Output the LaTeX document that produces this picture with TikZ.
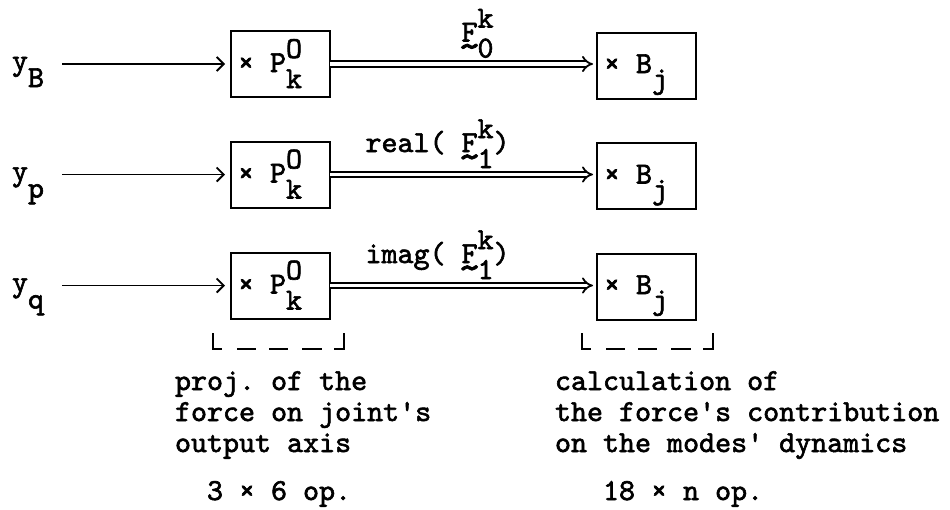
\documentclass[tikz,border=0pt]{standalone}
\usepackage{fontspec}
\usetikzlibrary{arrows.meta}
\newfontfamily\twf{lmmono10-regular.otf}[FakeBold=2,WordSpace={1,0,0},PunctuationSpace=WordSpace]
\newcommand\twfont{\fontsize{30.5}{31}\selectfont\twf\frenchspacing}
\newcommand\ud[2]{\rlap{\raisebox{14pt}{#1}}\raisebox{-16pt}{#2}}
\newcommand\tlF{\rlap{\makebox[16pt][c]{\raisebox{\dimexpr-\height-2.5pt\relax}{\scalebox{1.5}[1.3]{\textasciitilde}}}}F}
\begin{document}
\begin{tikzpicture}[x=1pt,y=-1pt,
  every node/.style={inner sep=0pt, outer sep=0pt, font=\twfont},
  box/.style={draw, line width=2pt, minimum width=99pt, minimum height=66pt},
  txt/.style={anchor=base west},
  single/.style={line width=1.8pt, -{Straight Barb[length=7pt,width=14pt]}, shorten >=6pt},
  dbl/.style={double, line width=1.8pt, double distance=3.6pt, -{Implies}, shorten >=4pt},
  brk/.style={line width=2pt}]
\useasboundingbox (0,0) rectangle (950,509);

% boxes
\node[box] (p1) at (280.5,64)    {};
\node[box] (p2) at (280.5,174.5) {};
\node[box] (p3) at (280.5,285.5) {};
\node[box] (b1) at (646.5,65.5)  {};
\node[box] (b2) at (646.5,176)   {};
\node[box] (b3) at (646.5,286.5) {};

% box texts
\node[txt] (tp1) at ([shift={(7,8)}]p1.west) {×\ P\ud{O}{k}};
\node[txt] (tp2) at ([shift={(7,8)}]p2.west) {×\ P\ud{O}{k}};
\node[txt] (tp3) at ([shift={(7,8)}]p3.west) {×\ P\ud{O}{k}};
\node[txt] (tb1) at ([shift={(7,7.5)}]b1.west) {×\ B\raisebox{-15pt}{j}};
\node[txt] (tb2) at ([shift={(7,7.5)}]b2.west) {×\ B\raisebox{-15pt}{j}};
\node[txt] (tb3) at ([shift={(7,7.5)}]b3.west) {×\ B\raisebox{-15pt}{j}};

% inputs
\node[txt] (yB) at (12,70)  {y\raisebox{-17pt}{B}};
\node[txt] (yp) at (12,180.5) {y\raisebox{-17pt}{p}};
\node[txt] (yq) at (12,291.5) {y\raisebox{-17pt}{q}};
\coordinate (s1) at (62,64);
\coordinate (s2) at (62,174.5);
\coordinate (s3) at (62,285.5);
\draw[single] (s1) -- (p1.west);
\draw[single] (s2) -- (p2.west);
\draw[single] (s3) -- (p3.west);

% double arrows
\draw[dbl] (p1.east) -- (p1.east -| b1.west);
\draw[dbl] (p2.east) -- (p2.east -| b2.west);
\draw[dbl] (p3.east) -- (p3.east -| b3.west);

% arrow labels
\node[txt] (f0) at (461.5,41.5) {\tlF\ud{k}{0}};
\node[txt] (f1) at (365.5,152) {real( \tlF\ud{k}{1})};
\node[txt] (f2) at (365.5,263) {imag( \tlF\ud{k}{1})};

% brackets
\foreach \x in {213,582}{
  \draw[brk] (\x,333) -- (\x,349) -- ({\x+9},349);
  \draw[brk] ({\x+24},349) -- ({\x+43},349);
  \draw[brk] ({\x+56},349) -- ({\x+75},349);
  \draw[brk] ({\x+89},349) -- ({\x+109},349);
  \draw[brk] ({\x+121},349) -- ({\x+131},349) -- ({\x+131},333);
}

% captions
\node[txt] (l1) at (175,390) {proj. of the};
\node[txt] (l2) at (175,421) {force on joint's};
\node[txt] (l3) at (175,452) {output axis};
\node[txt] (l4) at (207,500) {3 × 6 op.};
\node[txt] (r1) at (555,390) {calculation of};
\node[txt] (r2) at (555,421) {the force's contribution};
\node[txt] (r3) at (555,452) {on the modes' dynamics};
\node[txt] (r4) at (603,500) {18 × n op.};
\end{tikzpicture}
\end{document}
